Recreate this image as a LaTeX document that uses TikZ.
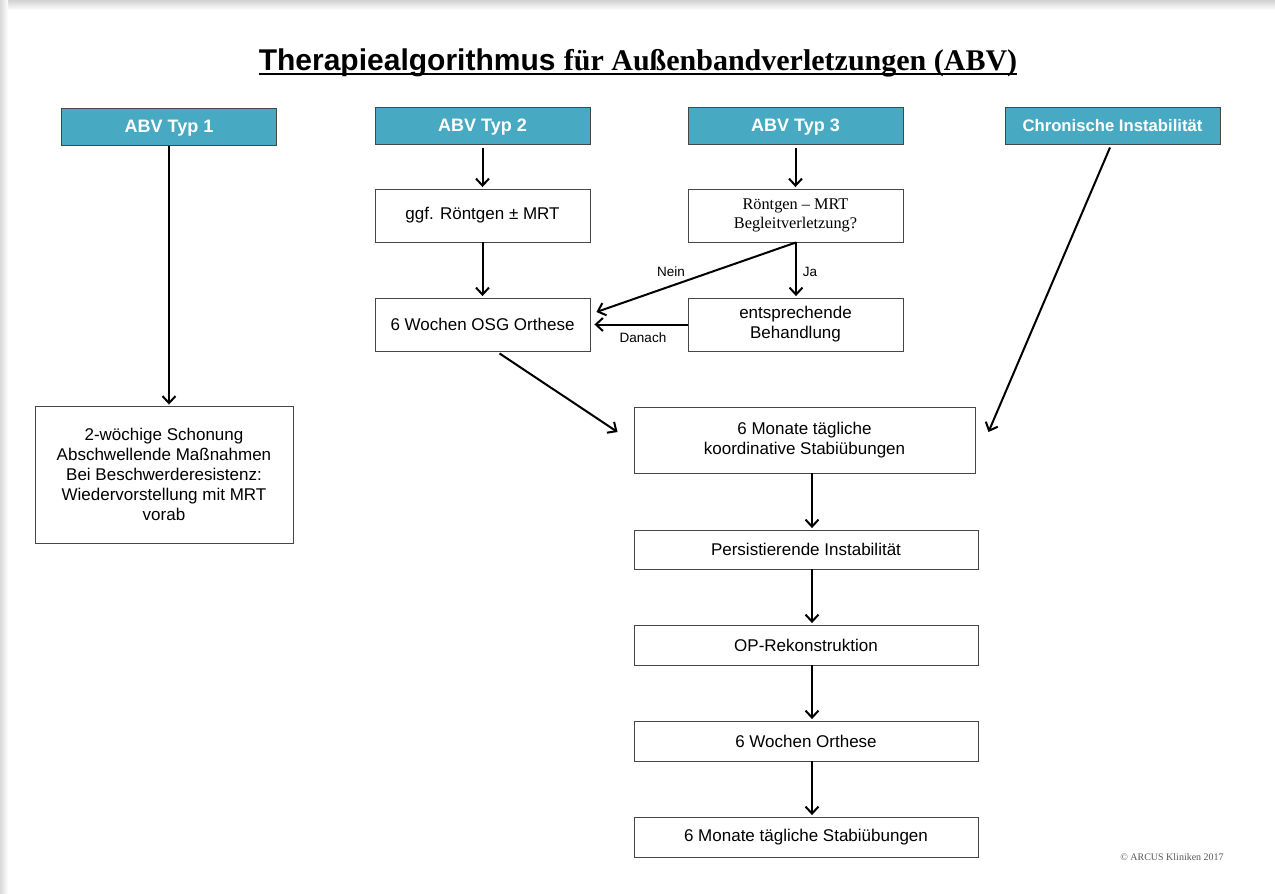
\documentclass[tikz,border=0pt]{standalone}
\usepackage{fontspec}
\setmainfont{Liberation Sans}
\newfontfamily\serifff{Liberation Serif}
\usetikzlibrary{arrows.meta,calc}
\definecolor{teal1}{RGB}{72,170,194}
\definecolor{boxline}{RGB}{70,70,70}
\tikzset{
  hdr/.style={draw=boxline, line width=1pt, fill=teal1, text=white, font=\fontsize{18}{21}\selectfont\bfseries, minimum width=215pt, minimum height=37pt, inner sep=0pt, text height=12.5pt, text depth=0pt},
  bx/.style={draw=boxline, line width=0.9pt, fill=white, font=\fontsize{17}{20}\selectfont, align=center, inner sep=0pt},
  arr/.style={line width=2pt, -{Straight Barb[length=7pt,width=13pt,line width=2pt]}},
  lbl/.style={font=\fontsize{13.5}{16}\selectfont, inner sep=0pt}
}
\begin{document}
\begin{tikzpicture}[x=1pt,y=-1pt]
\useasboundingbox (0,0) rectangle (1275,894);
\fill[white] (0,0) rectangle (1275,894);
\shade[top color=black!18, bottom color=white] (0,0) rectangle (1275,10);
\shade[left color=black!15, right color=white] (0,0) rectangle (8,894);
% title
\node[inner sep=0pt, anchor=base] (title) at (638,70) {\fontsize{30}{34}\selectfont\bfseries Therapiealgorithmus {\serifff für Außenbandverletzungen (ABV)}};
\draw[line width=2.6pt] ([yshift=-4pt]title.base west) -- ([yshift=-4pt]title.base east);
% headers
\node[hdr] (t1) at (169,126.5) {ABV Typ 1};
\node[hdr] (t2) at (482.5,125.5) {ABV Typ 2};
\node[hdr] (t3) at (795.5,125.5) {ABV Typ 3};
\node[hdr, font=\fontsize{16.7}{20}\selectfont\bfseries] (t4) at (1112.5,125.5) {Chronische Instabilität};
% boxes
\node[bx, minimum width=215pt, minimum height=53pt] (g) at (482.5,215.5) {ggf. Röntgen ± MRT};
\node[bx, minimum width=215pt, minimum height=53pt, font=\serifff\fontsize{16.3}{19.5}\selectfont] (r) at (795.5,215.5) {Röntgen – MRT\\Begleitverletzung?};
\node[bx, minimum width=215pt, minimum height=53pt] (o) at (482.5,324.5) {6 Wochen OSG Orthese};
\node[bx, minimum width=215pt, minimum height=53pt] (b) at (795.5,324.5) {entsprechende\\Behandlung};
\node[bx, minimum width=258pt, minimum height=137pt] (s) at (164,474.5) {2-wöchige Schonung\\Abschwellende Maßnahmen\\Bei Beschwerderesistenz:\\Wiedervorstellung mit MRT\\vorab};
\node[bx, minimum width=341pt, minimum height=66pt] (m) at (804.5,440) {6 Monate tägliche\\koordinative Stabiübungen};
\node[bx, minimum width=344pt, minimum height=39pt] (p) at (806,549.5) {Persistierende Instabilität};
\node[bx, minimum width=344pt, minimum height=40pt] (op) at (806,645) {OP-Rekonstruktion};
\node[bx, minimum width=344pt, minimum height=40pt] (w) at (806,741) {6 Wochen Orthese};
\node[bx, minimum width=344pt, minimum height=40pt] (st) at (806,837) {6 Monate tägliche Stabiübungen};
% arrows
\draw[arr] (t1.south) -- ([yshift=1pt]t1.south |- s.north);
\draw[arr] ([yshift=-3pt]t2.south) -- ([yshift=1.5pt]g.north);
\draw[arr] ([yshift=-3pt]t3.south) -- ([yshift=1.5pt]r.north);
\draw[arr] (g.south) -- ([yshift=1.5pt]o.north);
\draw[arr] ([xshift=0.5pt]r.south) -- ([xshift=0.5pt,yshift=1.5pt]b.north);
\draw[arr] ([xshift=0.5pt]r.south) -- ([xshift=6pt,yshift=12.5pt]o.east);
\draw[arr] (b.west) -- ([xshift=4pt]o.east);
\node[lbl] (ja) at (810,272) {Ja};
\node[lbl] (nein) at (671,272) {Nein};
\node[lbl] (danach) at (643,338) {Danach};
\draw[arr] ([xshift=17pt,yshift=-2pt]o.south) -- ([xshift=-16pt,yshift=8pt]m.west);
\draw[arr] ([xshift=-2.5pt,yshift=-3pt]t4.south) -- ([xshift=13pt,yshift=8pt]m.east);
\draw[arr] ([xshift=7.5pt]m.south) -- ([xshift=6pt,yshift=1.5pt]p.north);
\draw[arr] ([xshift=6pt]p.south) -- ([xshift=6pt,yshift=1.5pt]op.north);
\draw[arr] ([xshift=6pt]op.south) -- ([xshift=6pt,yshift=1.5pt]w.north);
\draw[arr] ([xshift=6pt]w.south) -- ([xshift=6pt,yshift=1.5pt]st.north);
% copyright
\node[inner sep=0pt, text=black!65, font=\serifff\fontsize{10}{12}\selectfont] (copy) at (1172,857) {© ARCUS Kliniken 2017};
\end{tikzpicture}
\end{document}
